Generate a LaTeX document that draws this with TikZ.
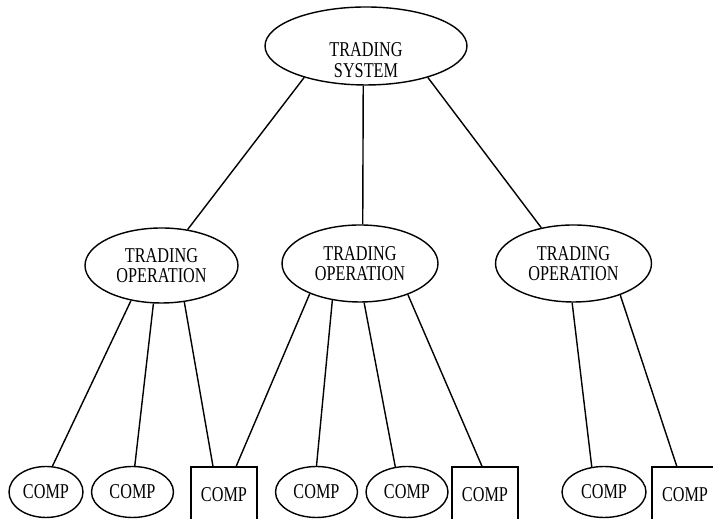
\documentclass[tikz,border=0pt]{standalone}
\usepackage{fontspec}
\setmainfont[FakeStretch=0.77]{Liberation Serif}
\usetikzlibrary{shapes.geometric}

\begin{document}
\begin{tikzpicture}[x=0.02cm,y=0.02cm,line width=0.8pt,
     oval/.style={ellipse, draw, inner sep=0pt, align=center, font=\fontsize{12}{11}\selectfont},
     sysoval/.style={oval, minimum width=4.04cm, minimum height=1.56cm},
     systext/.style={align=center, yshift=-0.28cm, font=\fontsize{12}{12}\selectfont},
     opoval/.style={oval, minimum width=3.12cm, minimum height=1.54cm},
     compoval/.style={oval, minimum width=1.64cm, minimum height=1.02cm},
     compbox/.style={rectangle, draw, inner sep=0pt, minimum width=1.32cm, minimum height=1.12cm, font=\fontsize{12}{11}\selectfont},
     link/.style={line width=0.8pt}]
     \useasboundingbox (0,0) rectangle (713,519);\clip (0,0) rectangle (713,519);
     % top and operations
     \node (sys) [sysoval, label={[systext]center:TRADING\\SYSTEM}] at (366,473) {};
     \node (opL) [opoval, minimum width=3.06cm, minimum height=1.5cm] at (161.5,253.5) {TRADING\\OPERATION};
     \node (opM) [opoval] at (360,255.5) {TRADING\\OPERATION};\node (opR) [opoval] at (573.5,255.5) {TRADING\\OPERATION};
     % components
     \node (c1) [compoval, minimum width=1.48cm] at (46,27) {COMP};\node (c2) [compoval] at (132.5,27) {COMP};
     \node (b1) [compbox] at (224,24) {COMP};\node (c3) [compoval] at (316.5,27) {COMP};
     \node (c4) [compoval] at (407,27) {COMP};\node (b2) [compbox] at (485,24) {COMP};
     \node (c5) [compoval, minimum width=1.68cm] at (604,27) {COMP};\node (b3) [compbox] at (685,24) {COMP};
     \draw [link] (sys.207) -- (opL.54);\draw [link] (sys.266) -- (opM.86);\draw [link] (sys.333) -- (opR.132);
     \draw [link] (opL.229) -- (c1.76);\draw [link] (opL.258) -- (c2.85);\draw [link] (opL.302) -- (b1.111);
     \draw [link] (opM.211) -- (b1.67);\draw [link] (opM.233) -- (c3.90);\draw [link] (opM.276) -- (c4.115);
     \draw [link] (opM.327) -- (b2.96);
     \draw [link] (opR.268) -- (c5.116);\draw [link] (opR.326) -- (b3.106);
\end{tikzpicture}
\end{document}
